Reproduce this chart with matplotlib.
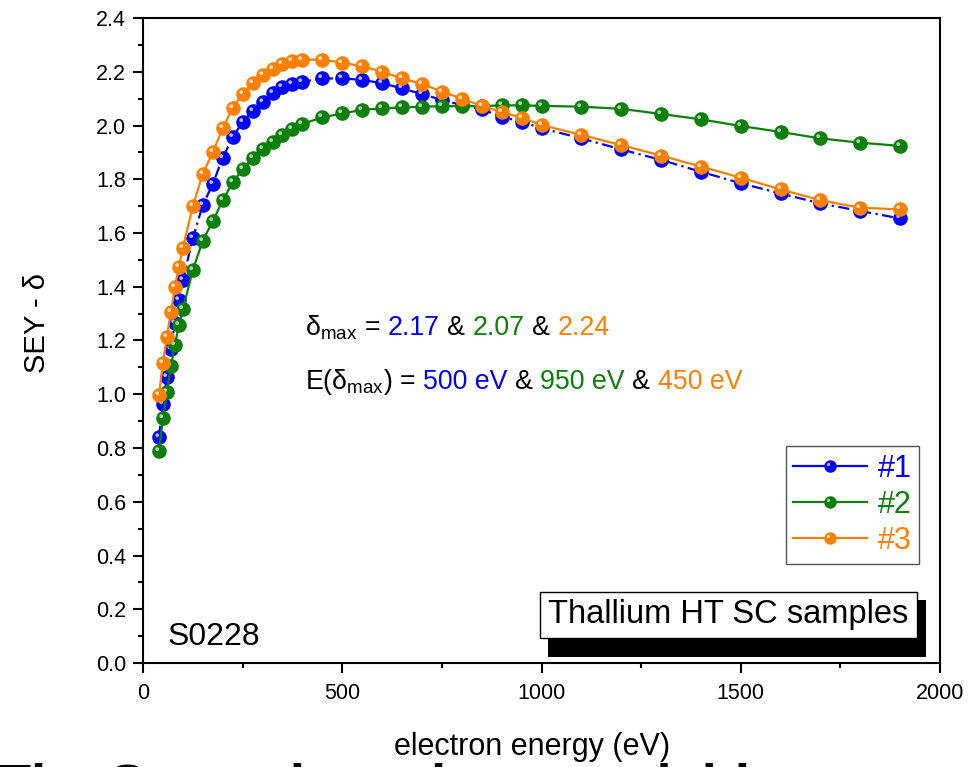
import numpy as np
import matplotlib
matplotlib.use('Agg')
import matplotlib.pyplot as plt
from matplotlib.path import Path
from matplotlib.lines import Line2D
from matplotlib.patches import Rectangle
from matplotlib.legend_handler import HandlerTuple
from matplotlib.offsetbox import TextArea, HPacker, AnnotationBbox

plt.rcParams['font.family'] = ['Liberation Sans', 'DejaVu Sans']

# data
energy = [40, 50, 60, 70, 80, 90, 100, 125, 150, 175, 200, 225, 250, 275, 300, 325, 350, 375, 400,
          450, 500, 550, 600, 650, 700, 750, 800, 850, 900, 950, 1000,
          1100, 1200, 1300, 1400, 1500, 1600, 1700, 1800, 1900]
sey_1 = [0.842, 0.964, 1.065, 1.17, 1.264, 1.35, 1.425, 1.58, 1.704, 1.782, 1.88, 1.956, 2.014, 2.055,
         2.089, 2.12, 2.142, 2.155, 2.163, 2.175, 2.175, 2.17, 2.157, 2.138, 2.117, 2.095, 2.076, 2.06,
         2.033, 2.014, 1.99, 1.952, 1.911, 1.872, 1.828, 1.785, 1.747, 1.71, 1.682, 1.654]
sey_2 = [0.79, 0.91, 1.01, 1.105, 1.183, 1.258, 1.316, 1.462, 1.572, 1.643, 1.721, 1.788, 1.837, 1.878,
         1.911, 1.94, 1.965, 1.986, 2.006, 2.03, 2.045, 2.058, 2.064, 2.067, 2.07, 2.072, 2.072, 2.072,
         2.075, 2.075, 2.073, 2.07, 2.062, 2.043, 2.023, 1.998, 1.976, 1.952, 1.936, 1.924]
sey_3 = [0.997, 1.117, 1.214, 1.307, 1.398, 1.475, 1.544, 1.70, 1.82, 1.90, 1.99, 2.065, 2.117, 2.16,
         2.188, 2.21, 2.23, 2.24, 2.245, 2.245, 2.234, 2.22, 2.20, 2.175, 2.155, 2.126, 2.10, 2.073,
         2.05, 2.029, 2.002, 1.965, 1.927, 1.888, 1.847, 1.806, 1.762, 1.722, 1.694, 1.688]
labels = ['#1', '#2', '#3']
colors = ['#0000ff', '#0a800a', '#ff8000']
highlights = ['#b8b8ff', '#b0d8b0', '#ffe0c0']

delta_max = ['2.17', '2.07', '2.24']
e_delta_max = ['500 eV', '950 eV', '450 eV']

# small offset circle used as a highlight so markers look like little balls
circ = Path.circle(center=(-0.32, 0.32), radius=0.26)
hl_path = Path(np.vstack([[[-1, -1]], [[1, 1]], circ.vertices]),
               [Path.MOVETO, Path.MOVETO] + list(circ.codes))

fig = plt.figure(figsize=(9.74, 7.67), dpi=100)
ax = fig.add_axes([143 / 974, 104 / 767, 797 / 974, 645 / 767])

series = [sey_1, sey_2, sey_3]
styles = [(0, (5, 2, 1, 2)), '-', '-']
ms = 10.5
handles = []
for y, c, hc, ls, lab in zip(series, colors, highlights, styles, labels):
    ax.plot(energy, y, color=c, lw=1.6, ls=ls, marker='o', ms=ms, mew=0, zorder=3)
    ax.plot(energy, y, ls='none', marker=hl_path, ms=ms, color=hc, mew=0, zorder=3)
    h1 = Line2D([], [], color=c, lw=1.6, marker='o', ms=9, mew=0)
    h2 = Line2D([], [], ls='none', marker=hl_path, ms=9, color=hc, mew=0)
    handles.append((h1, h2))

ax.set_xlim(0, 2000)
ax.set_ylim(0, 2.4)
ax.set_xticks([0, 500, 1000, 1500, 2000])
ax.set_xticks(np.arange(250, 2000, 500), minor=True)
ax.set_yticks(np.arange(0, 2.41, 0.2))
ax.set_yticks(np.arange(0.1, 2.4, 0.2), minor=True)
ax.yaxis.set_major_formatter(plt.FormatStrFormatter('%.1f'))
ax.tick_params(which='major', direction='out', length=7.2, width=1.5, labelsize=15.5, pad=5)
ax.tick_params(which='minor', direction='out', length=3.6, width=1.5)
ax.tick_params(axis='x', pad=7)
for s in ax.spines.values():
    s.set_linewidth(1.5)

ax.set_xlabel('electron energy (eV)', fontsize=22)
ax.xaxis.set_label_coords(0.488, -0.107)
ax.set_ylabel('SEY - δ', fontsize=21)
ax.yaxis.set_label_coords(-0.115, 0.527)

leg = ax.legend(handles, labels, handler_map={tuple: HandlerTuple(ndivide=1)},
                loc='upper right', bbox_to_anchor=(0.9737, 0.3364), borderaxespad=0,
                fontsize=22, labelcolor=colors, handlelength=2.4, handletextpad=0.35,
                borderpad=0.25, labelspacing=0.2, fancybox=False, edgecolor='#555555',
                framealpha=1)
leg.get_frame().set_linewidth(1.0)

# annotation with coloured values
def line_box(first, values):
    fs = 19.3
    parts = [TextArea(first, textprops=dict(fontsize=fs, color='k')),
             TextArea('=', textprops=dict(fontsize=fs, color='k'))]
    for i, (v, c) in enumerate(zip(values, colors)):
        if i > 0:
            parts.append(TextArea('&', textprops=dict(fontsize=fs, color='k')))
        parts.append(TextArea(v, textprops=dict(fontsize=fs, color=c)))
    return HPacker(children=parts, align='baseline', pad=0, sep=5.4)

ab1 = AnnotationBbox(line_box(r'$\mathregular{\delta_{max}}$', delta_max), (0.203, 0.520),
                     xycoords='axes fraction', box_alignment=(0, 0.5), frameon=False, pad=0)
ab2 = AnnotationBbox(line_box(r'$\mathregular{E(\delta_{max})}$', e_delta_max), (0.203, 0.435),
                     xycoords='axes fraction', box_alignment=(0, 0.5), frameon=False, pad=0)
ax.add_artist(ab1)
ax.add_artist(ab2)

ax.text(0.031, 0.028, 'S0228', transform=ax.transAxes, fontsize=23, ha='left', va='baseline')

# sample box with shadow
ax.add_patch(Rectangle((0.508, 0.0093), 0.474, 0.0884, transform=ax.transAxes,
                       facecolor='black', edgecolor='none', zorder=5))
ax.add_patch(Rectangle((0.498, 0.0388), 0.473, 0.0713, transform=ax.transAxes,
                       facecolor='white', edgecolor='black', lw=1.0, zorder=6))
ax.text(0.7345, 0.0745, 'Thallium HT SC samples', transform=ax.transAxes, fontsize=23.5,
        ha='center', va='center', zorder=7)

# big bold caption cut off by the bottom edge of the picture
fig.text(-0.002, -0.046, 'The Secondary electron yield', fontsize=39, fontweight='bold',
         ha='left', va='baseline')

fig.savefig('out.png', dpi=100)
